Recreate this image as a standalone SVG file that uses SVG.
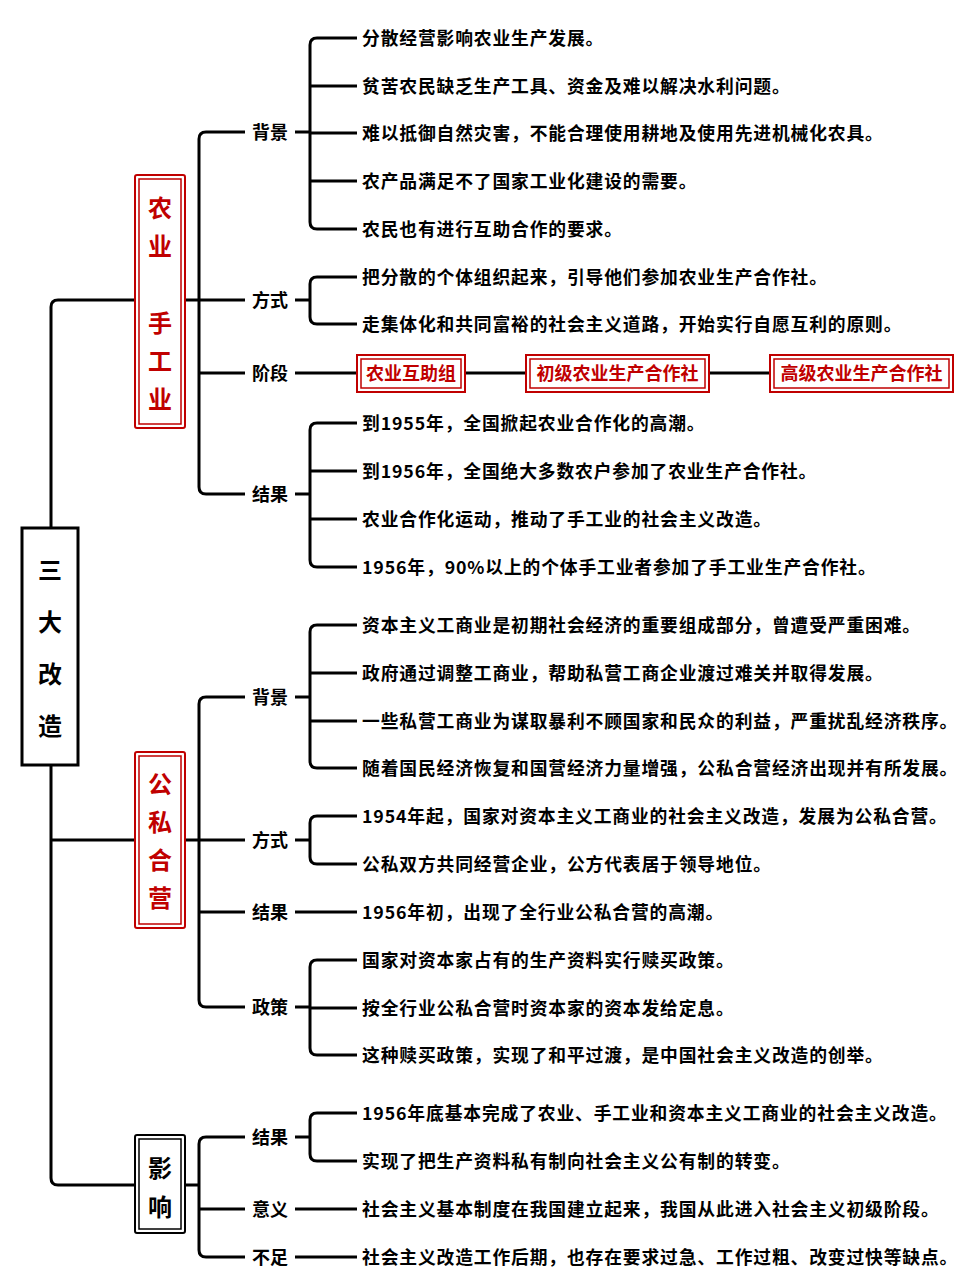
<svg xmlns="http://www.w3.org/2000/svg" width="969" height="1280" viewBox="0 0 969 1280">
<style>
.l{fill:none;stroke:#000;stroke-width:3;stroke-linejoin:round}
.t{font-family:"Noto Sans CJK SC",sans-serif;font-weight:bold;font-size:17.8px;letter-spacing:0.85px;fill:#000;dominant-baseline:central}
.k{font-family:"Noto Sans CJK SC",sans-serif;font-weight:bold;font-size:18px;fill:#000;dominant-baseline:central;text-anchor:middle}
.r{fill:#c00000}
.ro{fill:#fff;stroke:#c00000;stroke-width:2}
.ri{fill:none;stroke:#c00000;stroke-width:1.5}
.bo{fill:#fff;stroke:#000;stroke-width:2}
.bi{fill:none;stroke:#000;stroke-width:1.5}
.v{font-family:"Noto Sans CJK SC",sans-serif;font-weight:bold;font-size:24px;text-anchor:middle;dominant-baseline:central}
</style>
<rect width="969" height="1280" fill="#fff"/>
<g id="connectors">
<path class="l" d="M135 300H58Q51 300 51 307V1178Q51 1185 58 1185H135M51 840H135"/>
<path class="l" d="M185 300H199M245 132H206Q199 132 199 139V487Q199 494 206 494H245M199 300H245M199 373H245"/>
<path class="l" d="M295 132H310M357 38H317Q310 38 310 45V222Q310 229 317 229H357M310 86H357M310 133H357M310 181H357"/>
<path class="l" d="M295 300H310M357 277H317Q310 277 310 284V317Q310 324 317 324H357"/>
<path class="l" d="M295 373H357M465 373H526M709 373H770"/>
<path class="l" d="M295 494H310M357 423H317Q310 423 310 430V560Q310 567 317 567H357M310 471H357M310 519H357"/>
<path class="l" d="M185 840H199M245 697H206Q199 697 199 704V1000Q199 1007 206 1007H245M199 840H245M199 912H245"/>
<path class="l" d="M295 697H310M357 625H317Q310 625 310 632V761Q310 768 317 768H357M310 673H357M310 721H357"/>
<path class="l" d="M295 840H310M357 816H317Q310 816 310 823V857Q310 864 317 864H357"/>
<path class="l" d="M295 912H357"/>
<path class="l" d="M295 1007H310M357 960H317Q310 960 310 967V1048Q310 1055 317 1055H357M310 1008H357"/>
<path class="l" d="M185 1185H199M245 1137H206Q199 1137 199 1144V1250Q199 1257 206 1257H245M199 1209H245"/>
<path class="l" d="M295 1137H310M357 1113H317Q310 1113 310 1120V1154Q310 1161 317 1161H357"/>
<path class="l" d="M295 1209H357M295 1257H357"/>
</g>
<g id="root"><rect x="22" y="528" width="56" height="237" fill="#fff" stroke="#000" stroke-width="3"/>
<text class="v" x="50" y="568" font-size="36">三</text><text class="v" x="50" y="620" font-size="36">大</text><text class="v" x="50" y="672" font-size="36">改</text><text class="v" x="50" y="724" font-size="36">造</text></g>
<g id="n1"><rect class="ro" x="135" y="175" width="50" height="253" rx="2"/><rect class="ri" x="139" y="179" width="42" height="245"/>
<text class="v r" x="160" y="206">农</text><text class="v r" x="160" y="244">业</text><text class="v r" x="160" y="321">手</text><text class="v r" x="160" y="359">工</text><text class="v r" x="160" y="397">业</text></g>
<g id="n2"><rect class="ro" x="135" y="752" width="50" height="176" rx="2"/><rect class="ri" x="139" y="756" width="42" height="168"/>
<text class="v r" x="160" y="782">公</text><text class="v r" x="160" y="820">私</text><text class="v r" x="160" y="858">合</text><text class="v r" x="160" y="896">营</text></g>
<g id="n3"><rect class="bo" x="135" y="1135" width="50" height="98" rx="2"/><rect class="bi" x="139" y="1139" width="42" height="90"/>
<text class="v" x="160" y="1166">影</text><text class="v" x="160" y="1205">响</text></g>
<g id="labels">
<text class="k" x="270" y="131">背景</text><text class="k" x="270" y="299">方式</text><text class="k" x="270" y="372">阶段</text><text class="k" x="270" y="493">结果</text>
<text class="k" x="270" y="696">背景</text><text class="k" x="270" y="839">方式</text><text class="k" x="270" y="911">结果</text><text class="k" x="270" y="1006">政策</text>
<text class="k" x="270" y="1136">结果</text><text class="k" x="270" y="1208">意义</text><text class="k" x="270" y="1256">不足</text>
</g>
<g id="stages">
<rect class="ro" x="357" y="355" width="108" height="37"/><rect class="ri" x="361" y="359" width="100" height="29"/><text class="k r" x="411" y="372">农业互助组</text>
<rect class="ro" x="526" y="355" width="183" height="37"/><rect class="ri" x="530" y="359" width="175" height="29"/><text class="k r" x="617.5" y="372">初级农业生产合作社</text>
<rect class="ro" x="770" y="355" width="183" height="37"/><rect class="ri" x="774" y="359" width="175" height="29"/><text class="k r" x="861.5" y="372">高级农业生产合作社</text>
</g>
<g id="leaves">
<text class="t" x="362" y="37">分散经营影响农业生产发展。</text>
<text class="t" x="362" y="85">贫苦农民缺乏生产工具、资金及难以解决水利问题。</text>
<text class="t" x="362" y="132">难以抵御自然灾害，不能合理使用耕地及使用先进机械化农具。</text>
<text class="t" x="362" y="180">农产品满足不了国家工业化建设的需要。</text>
<text class="t" x="362" y="228">农民也有进行互助合作的要求。</text>
<text class="t" x="362" y="276">把分散的个体组织起来，引导他们参加农业生产合作社。</text>
<text class="t" x="362" y="323">走集体化和共同富裕的社会主义道路，开始实行自愿互利的原则。</text>
<text class="t" x="362" y="422">到1955年，全国掀起农业合作化的高潮。</text>
<text class="t" x="362" y="470">到1956年，全国绝大多数农户参加了农业生产合作社。</text>
<text class="t" x="362" y="518">农业合作化运动，推动了手工业的社会主义改造。</text>
<text class="t" x="362" y="566">1956年，90%以上的个体手工业者参加了手工业生产合作社。</text>
<text class="t" x="362" y="624">资本主义工商业是初期社会经济的重要组成部分，曾遭受严重困难。</text>
<text class="t" x="362" y="672">政府通过调整工商业，帮助私营工商企业渡过难关并取得发展。</text>
<text class="t" x="362" y="720">一些私营工商业为谋取暴利不顾国家和民众的利益，严重扰乱经济秩序。</text>
<text class="t" x="362" y="767">随着国民经济恢复和国营经济力量增强，公私合营经济出现并有所发展。</text>
<text class="t" x="362" y="815">1954年起，国家对资本主义工商业的社会主义改造，发展为公私合营。</text>
<text class="t" x="362" y="863">公私双方共同经营企业，公方代表居于领导地位。</text>
<text class="t" x="362" y="911">1956年初，出现了全行业公私合营的高潮。</text>
<text class="t" x="362" y="959">国家对资本家占有的生产资料实行赎买政策。</text>
<text class="t" x="362" y="1007">按全行业公私合营时资本家的资本发给定息。</text>
<text class="t" x="362" y="1054">这种赎买政策，实现了和平过渡，是中国社会主义改造的创举。</text>
<text class="t" x="362" y="1112">1956年底基本完成了农业、手工业和资本主义工商业的社会主义改造。</text>
<text class="t" x="362" y="1160">实现了把生产资料私有制向社会主义公有制的转变。</text>
<text class="t" x="362" y="1208">社会主义基本制度在我国建立起来，我国从此进入社会主义初级阶段。</text>
<text class="t" x="362" y="1256">社会主义改造工作后期，也存在要求过急、工作过粗、改变过快等缺点。</text>
</g>
</svg>
